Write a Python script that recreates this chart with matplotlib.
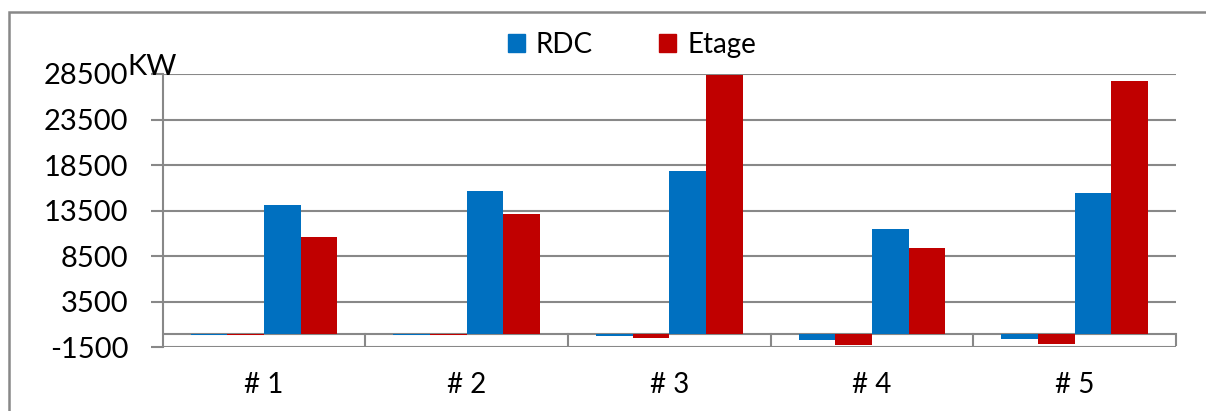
import numpy as np
from matplotlib import pyplot as plt
from matplotlib.patches import Patch, Rectangle

plt.rcParams['font.family'] = ['Lato', 'DejaVu Sans']

# valeurs (kW)
categories = ['# 1', '# 2', '# 3', '# 4', '# 5']
rdc_neg = [-160, -150, -250, -720, -550]
etage_neg = [-170, -160, -440, -1270, -1100]
rdc_pos = [14100, 15700, 17800, 11500, 15400]
etage_pos = [10600, 13100, 28400, 9400, 27700]
yticks = [-1500, 3500, 8500, 13500, 18500, 23500, 28500]

blue = '#0070C0'
red = '#C00000'
grey = '#888888'

W, H = 1206, 411
fig = plt.figure(figsize=(W/100, H/100), dpi=100)
ax = fig.add_axes([162.7/W, 1-347.3/H, (1176-162.7)/W, (347.3-74)/H])

x = np.arange(len(categories))
w = 0.181
series = [(rdc_neg, blue), (etage_neg, red), (rdc_pos, blue), (etage_pos, red)]
for k, (vals, col) in enumerate(series):
    ax.bar(x + (k-1.5)*w, vals, w, color=col, linewidth=0, zorder=3)

ax.set_xlim(-0.5, len(categories)-0.5)
ax.set_ylim(yticks[0], yticks[-1])
ax.set_yticks(yticks)
ax.set_yticklabels([str(v) for v in yticks], fontsize=21)
ax.yaxis.grid(True, color=grey, linewidth=1.5)
ax.set_axisbelow(True)

# axe des catégories à y=0
ax.axhline(0, color=grey, linewidth=1.5, zorder=2)
for b in np.arange(0.5, len(categories), 1.0):
    ax.plot([b, b], [0, -1200], color=grey, linewidth=1.5, zorder=2, clip_on=False)

ax.set_xticks(x)
ax.set_xticklabels(categories, fontsize=20)
ax.tick_params(axis='x', length=0, pad=18)
ax.tick_params(axis='y', length=8.6, width=1.5, color=grey, pad=16)

for s in ['top', 'right', 'bottom']:
    ax.spines[s].set_visible(False)
ax.spines['left'].set_color(grey)
ax.spines['left'].set_linewidth(1.5)

fig.text(127/W, 1-75/H, 'KW', fontsize=21, ha='left', va='baseline')

handles = [Patch(color=blue, label='RDC'), Patch(color=red, label='Etage')]
fig.legend(handles=handles, loc='center', bbox_to_anchor=(632/W, 1-45/H), ncol=2,
           frameon=False, fontsize=20, handlelength=0.6, handleheight=0.6,
           handletextpad=0.4, columnspacing=2.4)

# cadre du graphique (coupé à droite et en bas)
fig.patches.append(Rectangle((9/W, -0.2), 1.5, 1-11.7/H+0.2, transform=fig.transFigure,
                             fill=False, edgecolor=grey, linewidth=1.8))

fig.savefig('out.png', dpi=100)
